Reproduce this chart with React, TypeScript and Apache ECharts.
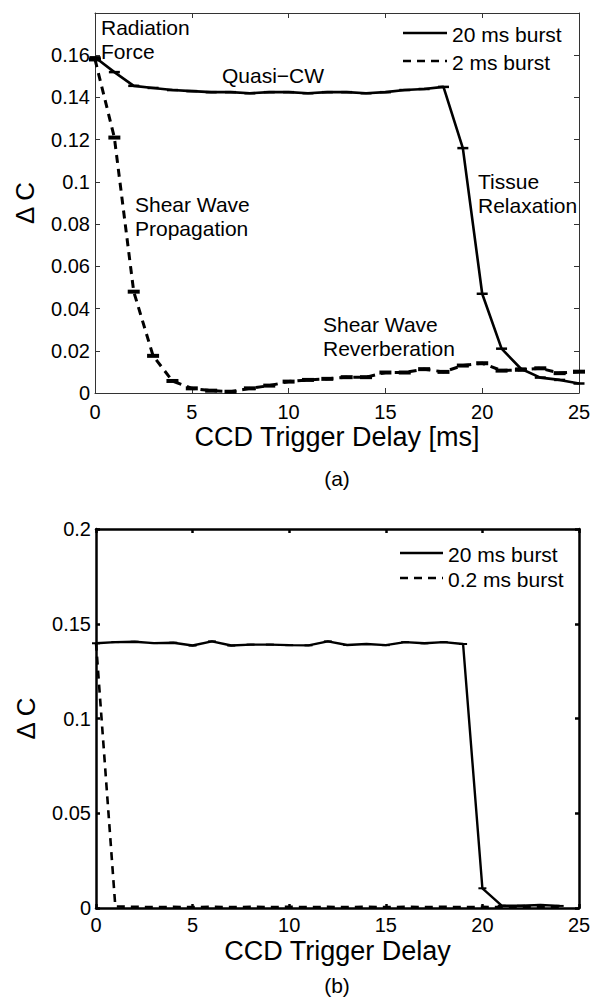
import React, { useEffect, useRef } from "react";
import * as echarts from "echarts";

const FONT = '"Liberation Sans", Arial, Helvetica, sans-serif';

// Panel (a)
const delaysA = [0, 1, 2, 3, 4, 5, 6, 7, 8, 9, 10, 11, 12, 13, 14, 15, 16, 17, 18, 19, 20, 21, 22, 23, 24, 25];
const burst20msA = [0.159, 0.152, 0.1455, 0.1445, 0.1435, 0.143, 0.1425, 0.1425, 0.142, 0.1425, 0.1425, 0.142, 0.1425, 0.1425, 0.142, 0.1425, 0.1435, 0.144, 0.145, 0.116, 0.047, 0.021, 0.0115, 0.0073, 0.0062, 0.0045];
const burst2msA = [0.158, 0.121, 0.048, 0.0176, 0.0057, 0.0022, 0.0011, 0.0006, 0.0022, 0.0035, 0.0054, 0.0062, 0.0067, 0.0075, 0.0075, 0.0097, 0.0097, 0.0113, 0.01, 0.013, 0.0141, 0.0106, 0.011, 0.0117, 0.0094, 0.0101];

// Panel (b)
const delaysB = [0, 1, 2, 3, 4, 5, 6, 7, 8, 9, 10, 11, 12, 13, 14, 15, 16, 17, 18, 19, 20, 21, 22, 23, 24];
const burst20msB = [0.1397, 0.1403, 0.1405, 0.1398, 0.14, 0.1385, 0.1407, 0.1385, 0.139, 0.139, 0.1387, 0.1386, 0.1407, 0.1388, 0.1393, 0.1387, 0.1403, 0.1397, 0.1403, 0.1393, 0.0104, 0.0012, 0.0012, 0.0016, 0.0011];
const burst02msB = [0.14, 0.0008, 0.0006, 0.0005, 0.0006, 0.0005, 0.0006, 0.0005, 0.0006, 0.0005, 0.0006, 0.0005, 0.0006, 0.0005, 0.0006, 0.0005, 0.0006, 0.0005, 0.0006, 0.0005, 0.0006, 0.0005, 0.0006, 0.0005, 0.0006];

const xTicksMin = 0;
const xTicksMax = 25;
const xTickStep = 5;
const yMaxA = 0.18;
const yStepA = 0.02;
const yMaxB = 0.2;
const yStepB = 0.05;

const legendA = ["20 ms burst", "2 ms burst"];
const legendB = ["20 ms burst", "0.2 ms burst"];

function fmt(v: number) {
  return String(parseFloat(v.toFixed(3)));
}

function makeX(gridIndex: number, color: string, width: number, name: string, nameGap: number, margin: number, tickLen: number) {
  const common = {
    type: "value",
    gridIndex,
    min: xTicksMin,
    max: xTicksMax,
    interval: xTickStep,
    splitLine: { show: false },
    axisLine: { show: true, onZero: false, lineStyle: { color, width } },
    axisTick: { show: true, inside: true, length: tickLen, lineStyle: { color, width } },
  };
  return [
    {
      ...common,
      position: "bottom",
      name,
      nameLocation: "middle",
      nameGap,
      nameTextStyle: { fontFamily: FONT, fontSize: 27, color: "#000" },
      axisLabel: { show: true, fontFamily: FONT, fontSize: 20, color: "#000", margin },
    },
    { ...common, position: "top", axisLabel: { show: false } },
  ];
}

function makeY(gridIndex: number, color: string, width: number, max: number, step: number, hideTop: boolean, tickLen: number) {
  const common = {
    type: "value",
    gridIndex,
    min: 0,
    max,
    interval: step,
    splitLine: { show: false },
    axisLine: { show: true, onZero: false, lineStyle: { color, width } },
    axisTick: { show: true, inside: true, length: tickLen, lineStyle: { color, width } },
  };
  return [
    {
      ...common,
      position: "left",
      name: "Δ C",
      nameLocation: "middle",
      nameRotate: 90,
      nameGap: 57,
      nameTextStyle: { fontFamily: FONT, fontSize: 26, color: "#000" },
      axisLabel: {
        show: true,
        fontFamily: FONT,
        fontSize: 20,
        color: "#000",
        margin: 5,
        formatter: (v: number) => (hideTop && v > max - step / 2 ? "" : fmt(v)),
      },
    },
    { ...common, position: "right", axisLabel: { show: false } },
  ];
}

function lineSeries(xi: number, yi: number, xs: number[], ys: number[], dashed: boolean, lw: number, cap: number[] | null) {
  return {
    type: "line",
    xAxisIndex: xi,
    yAxisIndex: yi,
    data: xs.map((x, i) => [x, ys[i]]),
    symbol: cap ? "rect" : "none",
    symbolSize: cap || 0,
    showSymbol: !!cap,
    itemStyle: { color: "#000" },
    lineStyle: { color: "#000", width: lw, type: dashed ? [8, 6] : "solid" },
    clip: false,
    silent: true,
  };
}

function txt(x: number, y: number, text: string, size: number, align = "left") {
  return {
    type: "text",
    x,
    y,
    silent: true,
    style: { text, fontFamily: FONT, fontSize: size, fill: "#000", align, verticalAlign: "middle" },
  };
}

function legendLine(x1: number, x2: number, y: number, dashed: boolean) {
  return {
    type: "line",
    silent: true,
    shape: { x1, y1: y, x2, y2: y },
    style: { stroke: "#000", lineWidth: 2.5, lineDash: dashed ? [8, 6] : null },
  };
}

export default function App() {
  const ref = useRef<HTMLDivElement>(null);
  useEffect(() => {
    const chart = echarts.init(ref.current!, null, { renderer: "svg" });
    const xa = makeX(0, "#333", 1, "CCD Trigger Delay [ms]", 30, 9, 5);
    const xb = makeX(1, "#000", 2.5, "CCD Trigger Delay", 29, 7, 4);
    const ya = makeY(0, "#333", 1, yMaxA, yStepA, true, 5);
    const yb = makeY(1, "#000", 2.5, yMaxB, yStepB, false, 4);
    chart.setOption({
      animation: false,
      backgroundColor: "#fff",
      grid: [
        { left: 95, top: 13, width: 484, height: 380 },
        { left: 96, top: 529, width: 483, height: 379 },
      ],
      xAxis: [...xa, ...xb],
      yAxis: [...ya, ...yb],
      series: [
        lineSeries(0, 0, delaysA, burst20msA, false, 2.6, [11, 2.5]),
        lineSeries(0, 0, delaysA, burst2msA, true, 3, [12, 4]),
        lineSeries(2, 2, delaysB, burst20msB, false, 2.4, [8, 2]),
        lineSeries(2, 2, delaysB, burst02msB, true, 2.6, null),
      ],
      graphic: [
        legendLine(403, 447, 33, false),
        legendLine(403, 447, 61, true),
        txt(452, 34, legendA[0], 21),
        txt(452, 62, legendA[1], 21),
        legendLine(400, 443, 553, false),
        legendLine(400, 443, 578, true),
        txt(448, 554, legendB[0], 21),
        txt(448, 579, legendB[1], 21),
        txt(101, 27, "Radiation", 21),
        txt(101, 51, "Force", 21),
        txt(222, 75, "Quasi\u2212CW", 21),
        txt(478, 181, "Tissue", 21),
        txt(478, 205, "Relaxation", 21),
        txt(135, 204, "Shear Wave", 21),
        txt(135, 228, "Propagation", 21),
        txt(323, 324, "Shear Wave", 21),
        txt(323, 348, "Reverberation", 21),
        txt(337, 478, "(a)", 21, "center"),
        txt(337, 985, "(b)", 21, "center"),
      ],
    });
    return () => chart.dispose();
  }, []);
  return (
    <div
      ref={ref}
      style={{ position: "absolute", left: 0, top: 0, width: 594, height: 1001, background: "#fff" }}
    />
  );
}
